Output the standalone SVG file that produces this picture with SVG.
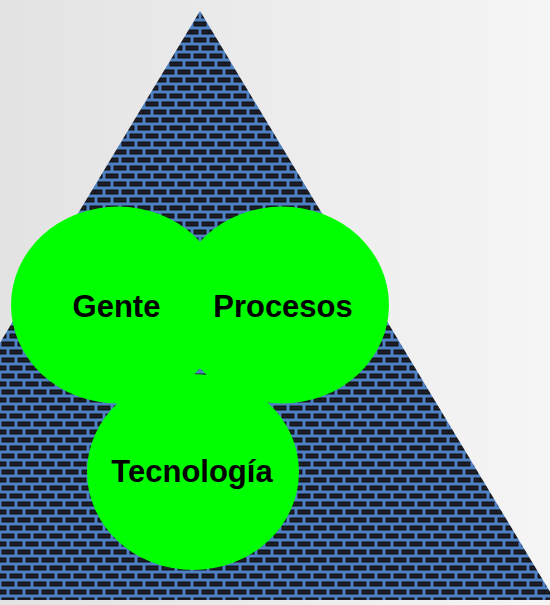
<svg xmlns="http://www.w3.org/2000/svg" width="550" height="605" viewBox="0 0 550 605">
  <defs>
    <linearGradient id="bg" x1="0" y1="0" x2="1" y2="0">
      <stop offset="0" stop-color="#e3e3e3"/>
      <stop offset="1" stop-color="#f5f5f5"/>
    </linearGradient>
    <pattern id="brick" x="0" y="4" width="16" height="16" patternUnits="userSpaceOnUse">
      <rect width="16" height="16" fill="#4f80c4"/>
      <rect x="1.5" y="1.5" width="13" height="5" fill="#121418"/>
      <rect x="-6.5" y="9.5" width="13" height="5" fill="#121418"/>
      <rect x="9.5" y="9.5" width="13" height="5" fill="#121418"/>
      <rect x="3" y="3.5" width="10" height="1" fill="#2a2e36"/>
      <rect x="11" y="11.5" width="4" height="1" fill="#2a2e36"/>
      <rect x="1" y="11.5" width="4" height="1" fill="#2a2e36"/>
    </pattern>
    <style>
      .circ { fill: #00ff00; }
      .lbl { font-family: "Liberation Sans", Arial, sans-serif; font-weight: bold; font-size: 31px; fill: #000; text-anchor: middle; }
    </style>
  </defs>
  <rect width="550" height="605" fill="url(#bg)"/>
  <g id="pyramid">
    <polygon points="200,11 555,600 -155,600" fill="url(#brick)"/>
  </g>
  <g id="gente">
    <ellipse class="circ" cx="118" cy="305" rx="107" ry="98.5"/>
    <text class="lbl" x="116.5" y="317">Gente</text>
  </g>
  <g id="procesos">
    <ellipse class="circ" cx="282" cy="305" rx="107" ry="98.5"/>
    <text class="lbl" x="283" y="317">Procesos</text>
  </g>
  <g id="tecnologia">
    <ellipse class="circ" cx="193" cy="472" rx="106" ry="98"/>
    <text class="lbl" x="192" y="482">Tecnología</text>
  </g>
  <g id="connectors"/>
</svg>
